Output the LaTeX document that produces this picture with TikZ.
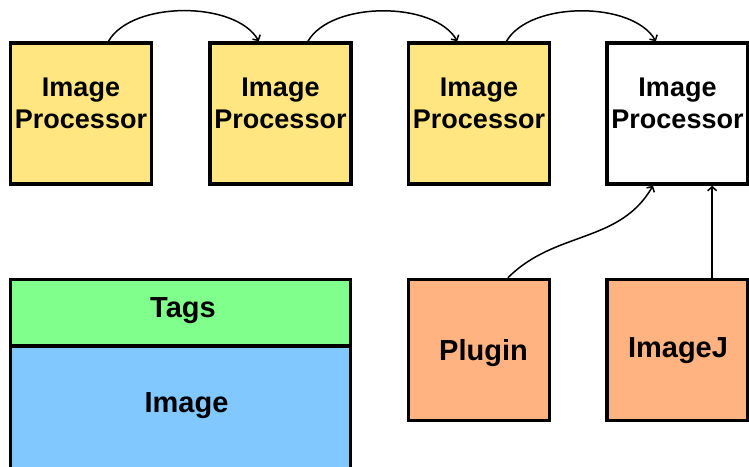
\documentclass[tikz,border=0pt]{standalone}
\usepackage{fontspec}
\setmainfont{Liberation Sans}
\usetikzlibrary{calc,arrows.meta}
\definecolor{procyellow}{RGB}{255,230,128}
\definecolor{hostorange}{RGB}{255,179,128}
\definecolor{taggreen}{RGB}{128,255,140}
\definecolor{imgblue}{RGB}{128,200,255}
\tikzstyle{box}=[draw=black,line width=3.5pt,inner sep=0pt,minimum width=141pt,minimum height=141pt]
\tikzstyle{boxtext}=[inner sep=0pt,align=center,font=\fontsize{27}{32}\selectfont\bfseries]
\tikzstyle{bigtext}=[inner sep=0pt,anchor=base,font=\fontsize{29}{34}\selectfont\bfseries]
\tikzstyle{flow}=[-{Straight Barb[length=4pt,width=9pt]},line width=1.5pt]
\newcommand{\procbox}[3][procyellow]{ % Syntax: [fill] {name} {center}
	\node[box,fill=#1] (#2) at (#3) {};
	\node[boxtext] (#2text) at ($(#2)+(0,-10)$) {Image\\Processor};
}
\begin{document}
\begin{tikzpicture}[x=1pt,y=-1pt]
	\clip (0,0) rectangle (749,466);
	% chain of processors
	\procbox{p1}{81,113.5}
	\procbox{p2}{280.5,113.5}
	\procbox{p3}{479,113.5}
	\procbox[white]{p4}{677.5,113.5}
	\foreach \a/\b in {p1/p2,p2/p3,p3/p4}
		\draw[flow] ($(\a.north west)!0.69!(\a.north east)$) to[out=60,in=120,looseness=0.8] ($(\b.north west)!0.35!(\b.north east)$);
	% sources
	\node[box,fill=hostorange] (plugin) at (479,350) {};
	\node[bigtext] (plugintext) at (483.5,360) {Plugin};
	\node[box,fill=hostorange] (imagej) at (677.5,350) {};
	\node[bigtext] (imagejtext) at (678,357) {ImageJ};
	\draw[flow] ($(plugin.north west)!0.70!(plugin.north east)$) to[out=45,in=-120] ($(p4.south west)!0.33!(p4.south east)$);
	\draw[flow] ($(imagej.north west)!0.74!(imagej.north east)$) -- ($(p4.south west)!0.74!(p4.south east)$);
	% tagged image
	\node[box,fill=imgblue,minimum width=340.4pt,minimum height=134pt] (image) at (180.5,413) {};
	\node[box,fill=taggreen,minimum width=340.4pt,minimum height=66.7pt] (tags) at (180.5,312.7) {};
	\node[bigtext] (tagstext) at (183,317) {Tags};
	\node[bigtext] (imagetext) at (186.5,412) {Image};
\end{tikzpicture}
\end{document}
